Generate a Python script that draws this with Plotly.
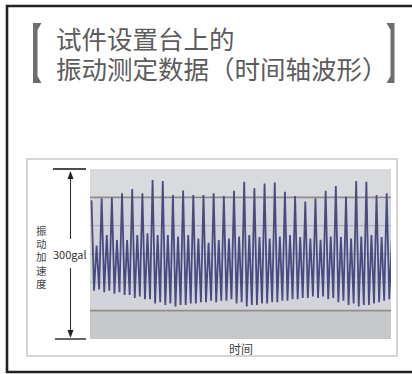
import plotly.graph_objects as go

# Waveform extremes, one cycle = tall peak -> trough -> small peak -> trough
tall_peaks = [1.90, 1.97, 1.99, 2.14, 2.29, 2.14, 2.61, 2.58, 2.08, 2.24,
              2.08, 2.08, 2.14, 2.05, 2.23, 2.55, 2.32, 2.49, 2.52, 2.20,
              2.05, 1.85, 1.97, 2.23, 2.40, 2.02, 2.58, 2.55, 2.08, 2.14]
troughs_a = [-1.30, -1.35, -1.40, -1.45, -1.55, -1.60, -1.75, -1.80, -1.85, -1.80,
             -1.75, -1.70, -1.70, -1.65, -1.75, -1.85, -1.80, -1.75, -1.70, -1.65,
             -1.60, -1.55, -1.55, -1.60, -1.70, -1.80, -1.85, -1.80, -1.70, -1.60]
small_peaks = [0.30, 0.67, 0.49, 0.49, 0.67, 0.73, 0.67, 0.67, 0.62, 0.67,
               0.55, 0.40, 0.49, 0.55, 0.62, 0.67, 0.60, 0.55, 0.62, 0.67,
               0.60, 0.55, 0.50, 0.62, 0.60, 0.55, 0.62, 0.67, 0.60, 0.55]
troughs_b = [-1.25, -1.30, -1.35, -1.45, -1.50, -1.60, -1.70, -1.75, -1.80, -1.75,
             -1.70, -1.65, -1.65, -1.60, -1.70, -1.80, -1.75, -1.70, -1.65, -1.60,
             -1.55, -1.50, -1.50, -1.55, -1.65, -1.75, -1.80, -1.75, -1.65, -1.55]

grid_levels = [-2, -1, 0, 1, 2]

title_lines = ["试件设置台上的", "振动测定数据（时间轴波形）"]
y_label_chars = list("振动加速度")

W, H = 412, 374


def px(x):
    return x / W


def py(y):
    return 1 - y / H


# interleave the extremes on a quarter-cycle time step
t, acc = [], []
for j in range(len(tall_peaks)):
    for k, v in enumerate((tall_peaks[j], troughs_a[j], small_peaks[j], troughs_b[j])):
        t.append(j + 0.25 * k)
        acc.append(v)

fig = go.Figure()
fig.add_trace(go.Scatter(x=t, y=acc, mode="lines",
                         line=dict(color="#4a4a82", width=1.8),
                         hoverinfo="skip", showlegend=False))

shapes = []
# plot-area bands
shapes.append(dict(type="rect", xref="x domain", yref="y", x0=0, x1=1, y0=2, y1=3,
                   fillcolor="#d9dade", line_width=0, layer="below"))
shapes.append(dict(type="rect", xref="x domain", yref="y", x0=0, x1=1, y0=-3, y1=-2,
                   fillcolor="#c6c7cb", line_width=0, layer="below"))
for lv in grid_levels:
    strong = abs(lv) == 2
    shapes.append(dict(type="line", xref="x domain", yref="y", x0=0, x1=1, y0=lv, y1=lv,
                       line=dict(color="#8f8c8a" if strong else ("#a3a3aa" if lv == 0 else "#b3b3b8"),
                                 width=1.6 if strong else 1.1),
                       layer="below"))

# outer black frame and inner light box
shapes.append(dict(type="rect", xref="paper", yref="paper",
                   x0=px(7), x1=px(420), y0=py(372), y1=py(6),
                   line=dict(color="#222222", width=2.6)))
shapes.append(dict(type="rect", xref="paper", yref="paper",
                   x0=px(27), x1=px(397), y0=py(356), y1=py(159),
                   line=dict(color="#c8c8c8", width=1.5)))


def path(points):
    return "M " + " L ".join(f"{px(a):.5f},{py(b):.5f}" for a, b in points) + " Z"


# title brackets
bracket_col = "#6e6e6e"
shapes.append(dict(type="path", xref="paper", yref="paper",
                   path=path([(33, 23), (41.5, 23), (37.5, 30), (37.5, 76), (41.5, 83), (33, 83)]),
                   fillcolor=bracket_col, line_width=0))
shapes.append(dict(type="path", xref="paper", yref="paper",
                   path=path([(394.5, 23), (386.5, 23), (390.5, 30), (390.5, 76), (386.5, 83), (394.5, 83)]),
                   fillcolor=bracket_col, line_width=0))

# amplitude scale marker
for (x0, x1, y) in [(53, 86, 169), (55, 86, 339)]:
    shapes.append(dict(type="line", xref="paper", yref="paper",
                       x0=px(x0), x1=px(x1), y0=py(y), y1=py(y),
                       line=dict(color="#111111", width=1.3)))
for (y0, y1) in [(177, 239), (268, 332)]:
    shapes.append(dict(type="line", xref="paper", yref="paper",
                       x0=px(70.5), x1=px(70.5), y0=py(y0), y1=py(y1),
                       line=dict(color="#333333", width=1.1)))
shapes.append(dict(type="path", xref="paper", yref="paper",
                   path=path([(67.5, 179), (73.5, 179), (70.5, 171)]),
                   fillcolor="#222222", line_width=0))
shapes.append(dict(type="path", xref="paper", yref="paper",
                   path=path([(67.5, 330), (73.5, 330), (70.5, 338)]),
                   fillcolor="#222222", line_width=0))

# CJK glyphs come from Noto Sans CJK; the compact Latin face sets the line box
font_cjk = "Noto Sans CJK SC"
font_tight = "Liberation Sans, Noto Sans CJK SC"
annotations = []
for i, line in enumerate(title_lines):
    annotations.append(dict(text=line, x=px(54), y=py(40.5 + 29.5 * i),
                            xanchor="left", yanchor="middle",
                            font=dict(family=font_tight, size=25.5, color="#5c5c5c")))
for i, ch in enumerate(y_label_chars):
    annotations.append(dict(text=ch, x=px(41.5), y=py(231 + 13.2 * i),
                            xanchor="center", yanchor="middle",
                            font=dict(family=font_tight, size=10.5, color="#444444")))
annotations += [
    dict(text="300gal", x=px(70), y=py(254), xanchor="center", yanchor="middle",
         font=dict(family=font_cjk, size=11, color="#333333")),
    dict(text="时间", x=px(241), y=py(348), xanchor="center", yanchor="middle",
         font=dict(family=font_cjk, size=12, color="#444444")),
]
for a in annotations:
    a.update(xref="paper", yref="paper", showarrow=False)

fig.update_layout(
    width=W, height=H, autosize=False,
    margin=dict(l=0, r=0, t=0, b=0),
    paper_bgcolor="white", plot_bgcolor="#d2d4d9",
    xaxis=dict(domain=[px(90), px(391)], range=[-0.147, 29.42],
               showgrid=False, zeroline=False, showticklabels=False, ticks="", fixedrange=True),
    yaxis=dict(domain=[py(339), py(169)], range=[-3, 3],
               showgrid=False, zeroline=False, showticklabels=False, ticks="", fixedrange=True),
    shapes=shapes, annotations=annotations,
)

fig.write_html("out.html")
